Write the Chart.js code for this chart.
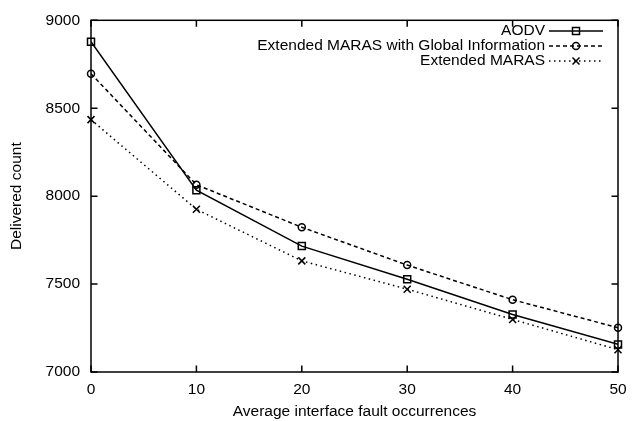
<!DOCTYPE html>
<html>
<head>
<meta charset="utf-8">
<script src="https://cdn.jsdelivr.net/npm/chart.js@4/dist/chart.umd.min.js"></script>
<style>
html,body{margin:0;padding:0;background:#fff;}
#wrap{width:642px;height:421px;position:relative;}
</style>
</head>
<body>
<div id="wrap"><canvas id="c" width="642" height="421"></canvas></div>
<script>
const xValues = [0, 10, 20, 30, 40, 50];
const aodv = [8878, 8034, 7716, 7527, 7327, 7157];
const marasGlobal = [8696, 8065, 7823, 7608, 7411, 7252];
const maras = [8435, 7925, 7632, 7471, 7299, 7127];
const seriesLabels = ['AODV', 'Extended MARAS with Global Information', 'Extended MARAS'];
const xTicks = [0, 10, 20, 30, 40, 50];
const yTicks = [7000, 7500, 8000, 8500, 9000];
const xTitle = 'Average interface fault occurrences';
const yTitle = 'Delivered count';

const FONT = '"Liberation Sans", Arial, sans-serif';
const FS = 15.5;
const LW = 1.5;
const toPts = (ys) => xValues.map((x, i) => ({x: x, y: ys[i]}));

function drawMarker(ctx, style, x, y) {
  ctx.save();
  ctx.setLineDash([]);
  ctx.lineWidth = LW;
  ctx.strokeStyle = '#000';
  ctx.beginPath();
  if (style === 'rect') {
    ctx.rect(x - 3.5, y - 3.5, 7, 7);
  } else if (style === 'circle') {
    ctx.arc(x, y, 3.5, 0, Math.PI * 2);
  } else {
    ctx.moveTo(x - 3.5, y - 3.5); ctx.lineTo(x + 3.5, y + 3.5);
    ctx.moveTo(x + 3.5, y - 3.5); ctx.lineTo(x - 3.5, y + 3.5);
  }
  ctx.stroke();
  ctx.restore();
}

const frame = {
  id: 'frame',
  afterDatasetsDraw(chart) {
    const {ctx, chartArea: a, scales} = chart;
    ctx.save();
    ctx.strokeStyle = '#000';
    ctx.lineWidth = LW;
    ctx.setLineDash([]);
    ctx.strokeRect(a.left, a.top, a.right - a.left, a.bottom - a.top);
    const L = 6.5;
    ctx.beginPath();
    xTicks.forEach(v => {
      const px = scales.x.getPixelForValue(v);
      ctx.moveTo(px, a.bottom); ctx.lineTo(px, a.bottom - L);
      ctx.moveTo(px, a.top); ctx.lineTo(px, a.top + L);
    });
    yTicks.forEach(v => {
      const py = scales.y.getPixelForValue(v);
      ctx.moveTo(a.left, py); ctx.lineTo(a.left + L, py);
      ctx.moveTo(a.right, py); ctx.lineTo(a.right - L, py);
    });
    ctx.stroke();
    chart.data.datasets.forEach((ds, i) => {
      const meta = chart.getDatasetMeta(i);
      meta.data.forEach(pt => drawMarker(ctx, ds.mk, pt.x, pt.y));
    });
    ctx.font = FS + 'px ' + FONT;
    ctx.fillStyle = '#000';
    ctx.textAlign = 'right';
    ctx.textBaseline = 'middle';
    const textRight = 545, lx0 = 549, lx1 = 603;
    chart.data.datasets.forEach((ds, i) => {
      const y = 31 + i * 15;
      ctx.fillText(ds.label, textRight, y);
      ctx.beginPath();
      ctx.lineWidth = LW;
      ctx.setLineDash(ds.borderDash || []);
      ctx.moveTo(lx0, y); ctx.lineTo(lx1, y);
      ctx.stroke();
      drawMarker(ctx, ds.mk, (lx0 + lx1) / 2, y);
    });
    ctx.restore();
  }
};

new Chart(document.getElementById('c'), {
  type: 'line',
  data: {
    datasets: [
      {label: seriesLabels[0], data: toPts(aodv), mk: 'rect', borderColor: '#000', borderWidth: LW, borderDash: [], pointRadius: 0, tension: 0, fill: false},
      {label: seriesLabels[1], data: toPts(marasGlobal), mk: 'circle', borderColor: '#000', borderWidth: LW, borderDash: [4, 3], pointRadius: 0, tension: 0, fill: false},
      {label: seriesLabels[2], data: toPts(maras), mk: 'cross', borderColor: '#000', borderWidth: LW, borderDash: [1.5, 3.5], pointRadius: 0, tension: 0, fill: false}
    ]
  },
  options: {
    responsive: false,
    animation: false,
    devicePixelRatio: 1,
    layout: {padding: {top: 15, right: 24, left: 0, bottom: 0}},
    plugins: {legend: {display: false}, tooltip: {enabled: false}},
    scales: {
      x: {
        type: 'linear', min: 0, max: 50,
        afterBuildTicks: (s) => { s.ticks = xTicks.map(v => ({value: v})); },
        afterFit: (s) => { s.height = 49; },
        grid: {display: false, drawTicks: false},
        border: {display: false},
        ticks: {color: '#000', font: {family: FONT, size: FS}, padding: 8, maxRotation: 0, callback: (v) => String(v)},
        title: {display: true, text: xTitle, color: '#000', font: {family: FONT, size: FS}, padding: {top: 2, bottom: 0}}
      },
      y: {
        type: 'linear', min: 7000, max: 9000,
        afterBuildTicks: (s) => { s.ticks = yTicks.map(v => ({value: v})); },
        afterFit: (s) => { s.width = 91; },
        grid: {display: false, drawTicks: false},
        border: {display: false},
        ticks: {color: '#000', font: {family: FONT, size: FS}, padding: 11, callback: (v) => String(v)},
        title: {display: true, text: yTitle, color: '#000', font: {family: FONT, size: FS}, padding: {top: 7, bottom: 0}}
      }
    }
  },
  plugins: [frame]
});
</script>
</body>
</html>
